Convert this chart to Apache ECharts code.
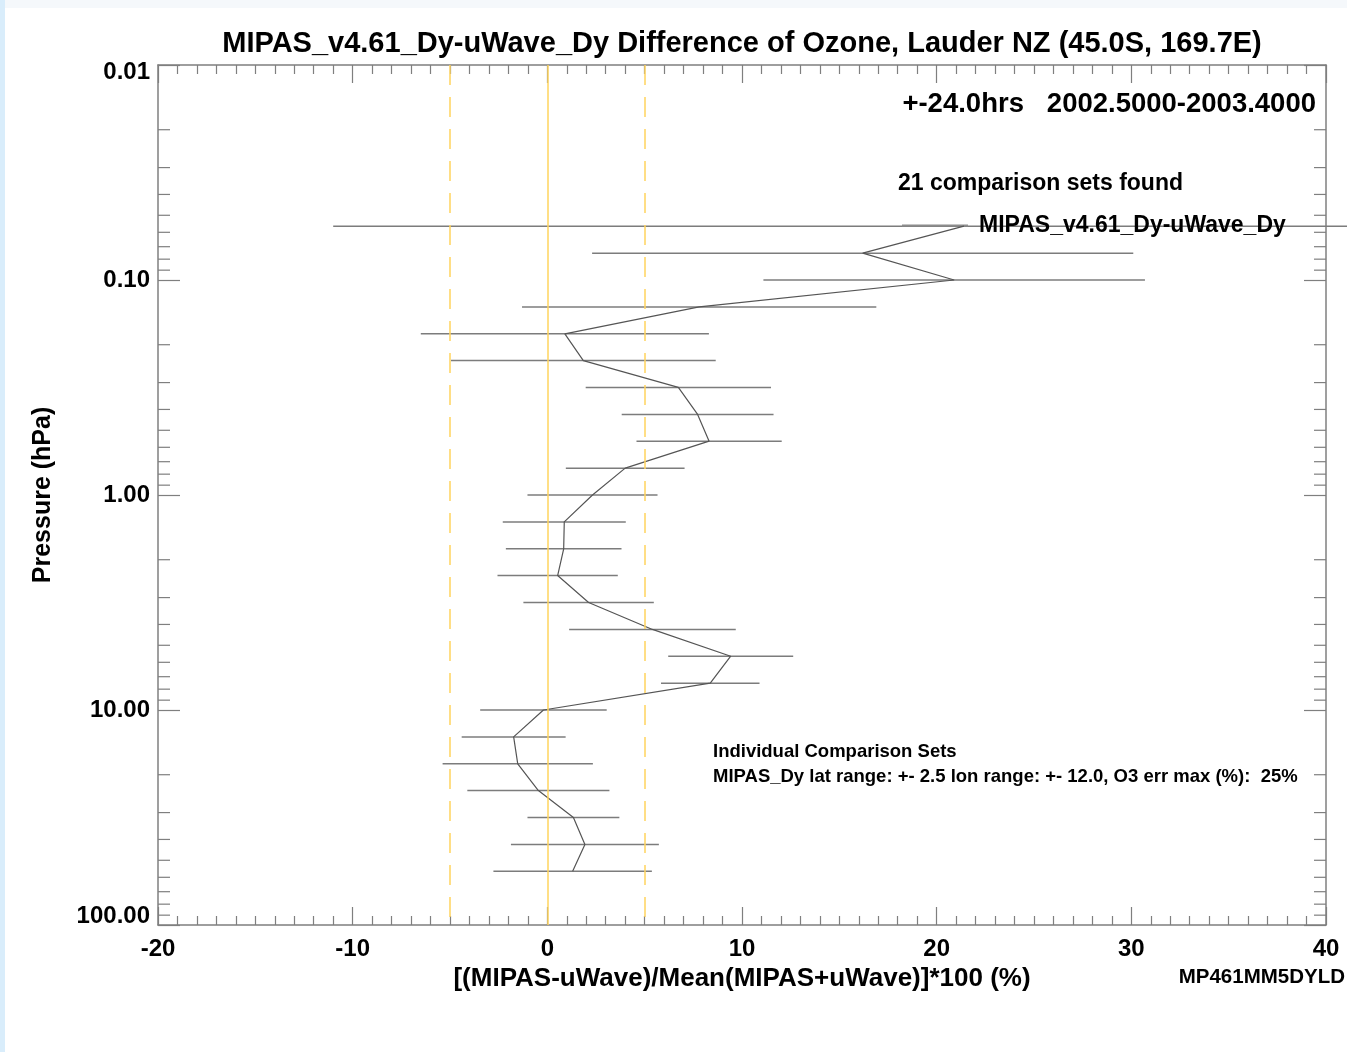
<!DOCTYPE html>
<html>
<head>
<meta charset="utf-8">
<script src="https://cdn.jsdelivr.net/npm/echarts@6/dist/echarts.min.js"></script>
<style>
html,body{margin:0;padding:0;background:#fff;}
#c{width:1347px;height:1052px;}
</style>
</head>
<body>
<div id="c"></div>
<script>
// ---- data ----
const pressureLevels = [0.0562, 0.075, 0.1, 0.1334, 0.178, 0.237, 0.316, 0.422, 0.562, 0.75,
  1.0, 1.334, 1.78, 2.37, 3.16, 4.22, 5.62, 7.5, 10, 13.34, 17.8, 23.7, 31.6, 42.2, 56.2];
const meanDiff = [21.4, 16.2, 20.9, 7.8, 0.9, 1.85, 6.73, 7.72, 8.31, 4.0,
  2.32, 0.87, 0.84, 0.53, 2.12, 5.4, 9.42, 8.37, -0.2, -1.73, -1.52, -0.46, 1.34, 1.93, 1.3];
const errDiff = [32.4, 13.9, 9.8, 9.1, 7.4, 6.8, 4.76, 3.9, 3.73, 3.05,
  3.34, 3.16, 2.97, 3.09, 3.35, 4.28, 3.21, 2.53, 3.25, 2.67, 3.86, 3.65, 2.36, 3.8, 4.07];
const xTickValues = [-20, -10, 0, 10, 20, 30, 40];
const yTickValues = [0.01, 0.1, 1, 10, 100];
const refLines = [-5, 0, 5];
const minorPressureTicks = [
  0.02, 0.03, 0.04, 0.05, 0.06, 0.07, 0.08, 0.09,
  0.2, 0.3, 0.4, 0.5, 0.6, 0.7, 0.8, 0.9,
  2, 3, 4, 5, 6, 7, 8, 9,
  20, 30, 40, 50, 60, 70, 80, 90
];
const seriesName = 'MIPAS_v4.61_Dy-uWave_Dy';

const FONT = '"Liberation Sans", Arial, Helvetica, sans-serif';
const AX = '#7f7f7f';
const chart = echarts.init(document.getElementById('c'), null, {renderer: 'canvas'});

function txt(x, y, text, size, align, weight) {
  return {
    type: 'text', x: x, y: y, silent: true,
    style: {
      text: text, fill: '#000',
      font: (weight || 'bold') + ' ' + size + 'px ' + FONT,
      textAlign: align || 'left', align: align || 'left',
      textVerticalAlign: 'middle', verticalAlign: 'middle'
    }
  };
}

const xAxisCommon = {
  type: 'value', min: xTickValues[0], max: xTickValues[xTickValues.length - 1], interval: 10,
  axisLine: {show: true, onZero: false, lineStyle: {color: AX, width: 1.5}},
  axisTick: {show: true, inside: true, length: 18, lineStyle: {color: AX, width: 1.2}},
  minorTick: {show: true, splitNumber: 10, length: 9, lineStyle: {color: AX, width: 1.2}},
  splitLine: {show: false}, minorSplitLine: {show: false}
};
const yAxisCommon = {
  type: 'log', logBase: 10, min: yTickValues[0], max: yTickValues[yTickValues.length - 1], inverse: true,
  axisLine: {show: true, onZero: false, lineStyle: {color: AX, width: 1.5}},
  axisTick: {show: true, inside: true, length: 22, lineStyle: {color: AX, width: 1.2}},
  splitLine: {show: false}, minorTick: {show: false}
};
const yLabelStyle = {fontFamily: FONT, fontSize: 24, fontWeight: 'bold', color: '#000'};

const option = {
  animation: false,
  backgroundColor: '#ffffff',
  grid: {left: 158, right: 21, top: 65, bottom: 127, containLabel: false},
  legend: {
    data: [{name: seriesName, icon: 'rect', itemStyle: {color: '#8c8c8c', borderWidth: 0}}],
    left: 897, top: 209, itemWidth: 66, itemHeight: 2,
    itemGap: 0, selectedMode: false,
    textStyle: {fontFamily: FONT, fontSize: 23, fontWeight: 'bold', color: '#000', padding: [0, 0, 0, 6]}
  },
  xAxis: [
    Object.assign({}, xAxisCommon, {
      position: 'bottom',
      axisLabel: {show: true, fontFamily: FONT, fontSize: 24, fontWeight: 'bold', color: '#000', margin: 12},
      name: '[(MIPAS-uWave)/Mean(MIPAS+uWave)]*100 (%)', nameLocation: 'middle', nameGap: 38,
      nameTextStyle: {fontFamily: FONT, fontSize: 26, fontWeight: 'bold', color: '#000'}
    }),
    Object.assign({}, xAxisCommon, {position: 'top', axisLabel: {show: false}})
  ],
  yAxis: [
    Object.assign({}, yAxisCommon, {
      position: 'left',
      axisLabel: {show: true, margin: 8,
        fontFamily: FONT, fontSize: 24, fontWeight: 'bold', color: '#000',
        formatter: function (v) {
          const s = Number(v).toFixed(2);
          if (v <= yTickValues[0] * 1.0001) return '{top|' + s + '}';
          if (v >= yTickValues[yTickValues.length - 1] * 0.9999) return '{bot|' + s + '}';
          return s;
        },
        rich: {
          top: Object.assign({padding: [14, 0, 0, 0]}, yLabelStyle),
          bot: Object.assign({padding: [0, 0, 18, 0]}, yLabelStyle)
        }
      },
      name: 'Pressure (hPa)', nameLocation: 'middle', nameGap: 102, nameRotate: 90,
      nameTextStyle: {fontFamily: FONT, fontSize: 25, fontWeight: 'bold', color: '#000'}
    }),
    Object.assign({}, yAxisCommon, {position: 'right', axisLabel: {show: false}})
  ],
  graphic: [
    {type: 'rect', silent: true, z: -10, shape: {x: 0, y: 0, width: 1347, height: 8}, style: {fill: '#f5f8fb'}},
    {type: 'rect', silent: true, z: -10, shape: {x: 0, y: 0, width: 5, height: 1052}, style: {fill: '#d9edfb'}},
    txt(742, 44, 'MIPAS_v4.61_Dy-uWave_Dy Difference of Ozone, Lauder NZ (45.0S, 169.7E)', 29, 'center'),
    txt(1316, 104, '+-24.0hrs   2002.5000-2003.4000', 27.5, 'right'),
    txt(898, 184, '21 comparison sets found', 23, 'left'),
    txt(713, 752, 'Individual Comparison Sets', 18.5, 'left'),
    txt(713, 777, 'MIPAS_Dy lat range: +- 2.5 lon range: +- 12.0, O3 err max (%):  25%', 18.5, 'left'),
    txt(1345, 977, 'MP461MM5DYLD', 20.5, 'right')
  ],
  series: [
    {
      type: 'custom', name: 'errorbars', silent: true, clip: false,
      xAxisIndex: 0, yAxisIndex: 0,
      data: pressureLevels.map(function (p, i) { return [meanDiff[i] - errDiff[i], meanDiff[i] + errDiff[i], p]; }),
      encode: {x: [0, 1], y: 2},
      renderItem: function (params, api) {
        const a = api.coord([api.value(0), api.value(2)]);
        const b = api.coord([api.value(1), api.value(2)]);
        return {type: 'line', shape: {x1: a[0], y1: a[1], x2: b[0], y2: b[1]},
          style: {stroke: '#7c7c7c', lineWidth: 1.5}};
      },
      z: 3
    },
    {
      type: 'custom', name: 'yminor', silent: true, clip: false,
      xAxisIndex: 0, yAxisIndex: 0,
      data: minorPressureTicks.map(function (v) { return [xTickValues[0], v]; }),
      encode: {x: 0, y: 1},
      renderItem: function (params, api) {
        const cs = params.coordSys;
        const y = api.coord([api.value(0), api.value(1)])[1];
        return {type: 'group', children: [
          {type: 'line', shape: {x1: cs.x, y1: y, x2: cs.x + 12, y2: y}, style: {stroke: AX, lineWidth: 1.2}},
          {type: 'line', shape: {x1: cs.x + cs.width, y1: y, x2: cs.x + cs.width - 12, y2: y}, style: {stroke: AX, lineWidth: 1.2}}
        ]};
      },
      z: 2
    },
    {
      type: 'line', name: seriesName, xAxisIndex: 0, yAxisIndex: 0,
      data: pressureLevels.map(function (p, i) { return [meanDiff[i], p]; }),
      symbol: 'none', color: '#8c8c8c',
      lineStyle: {color: '#555555', width: 1.2},
      z: 4,
      markLine: {
        silent: true, symbol: 'none', label: {show: false},
        data: refLines.map(function (v) {
          return {xAxis: v, lineStyle: {color: '#ffd45e', width: 1.5, type: v === 0 ? 'solid' : [20, 12]}};
        })
      }
    }
  ]
};
chart.setOption(option);
</script>
</body>
</html>
